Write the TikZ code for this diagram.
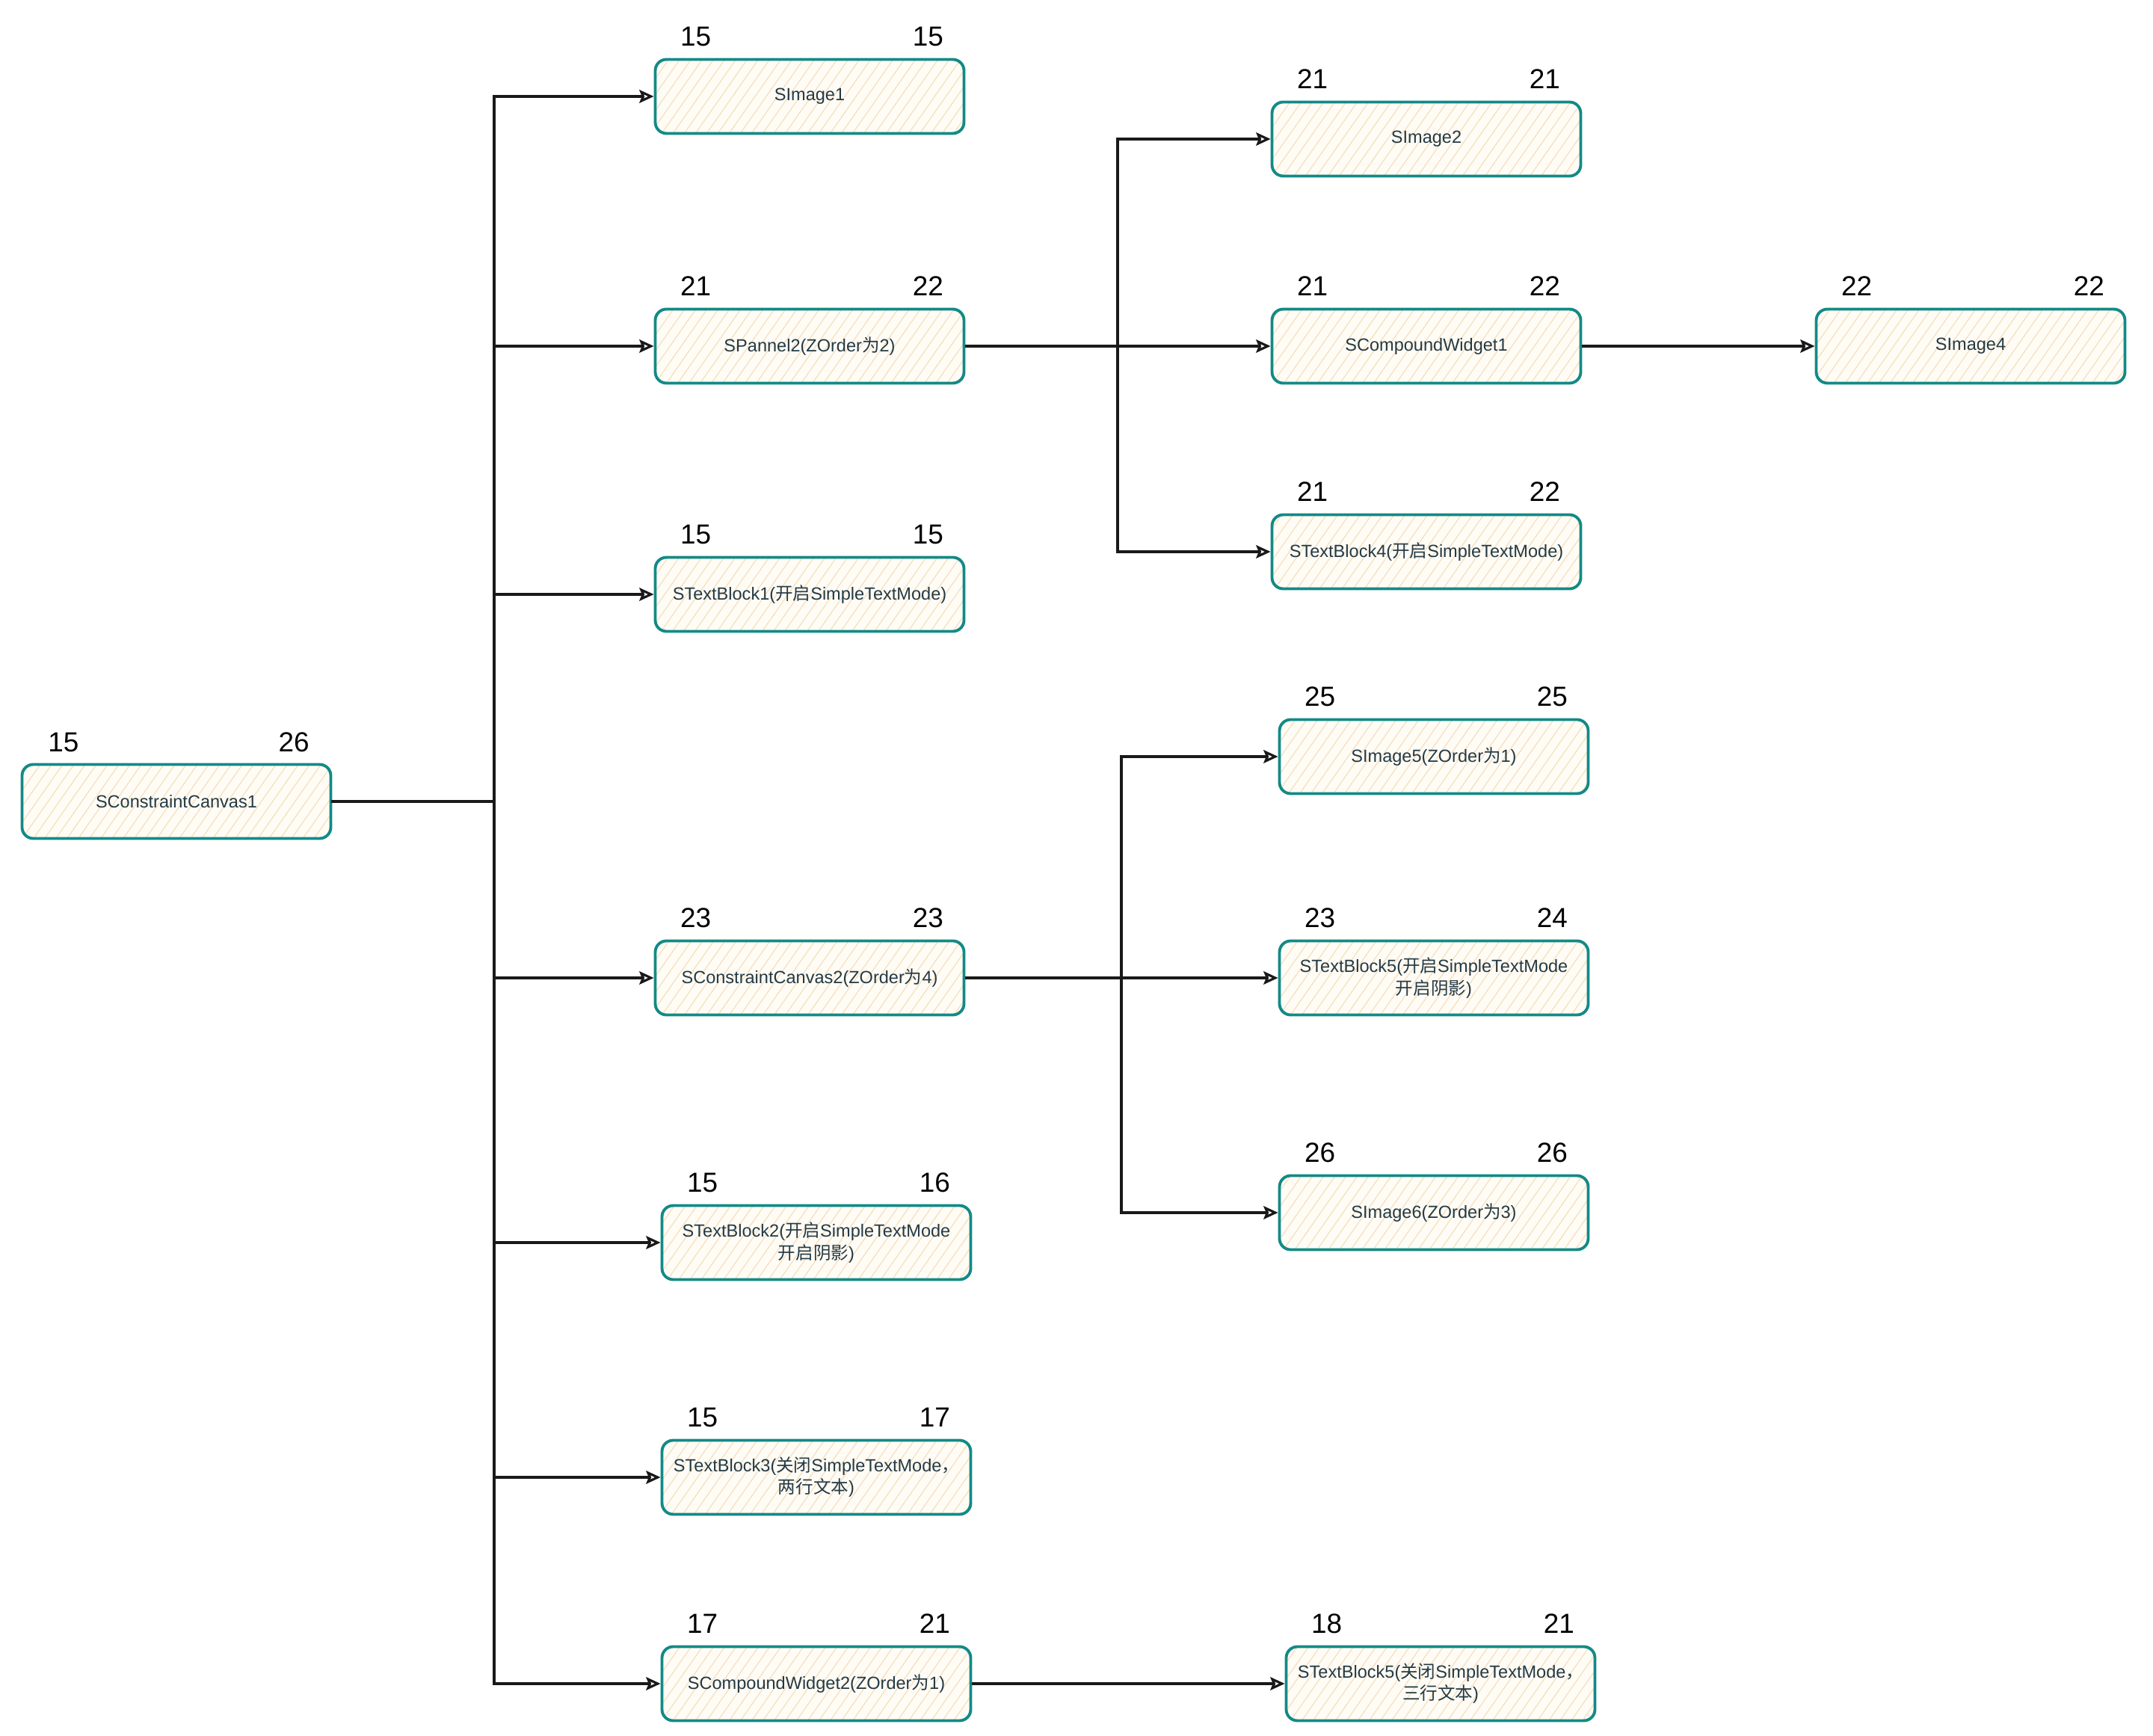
\documentclass[tikz,border=0pt]{standalone}
\usepackage{fontspec}
\setmainfont{Liberation Sans}
\newfontfamily\cjk{Noto Sans CJK SC}
\usepackage{tikz}
\usetikzlibrary{arrows.meta,positioning,patterns.meta}

\definecolor{edge}{HTML}{138A86}
\definecolor{hatch}{HTML}{F6DFBE}
\definecolor{paper}{HTML}{FFFCF6}
\definecolor{ink}{HTML}{243A44}

\begin{document}
\begin{tikzpicture}[>={Stealth[open,length=5.5pt,width=5pt,inset=1pt]},
  widget/.style={draw=edge, line width=1.1pt, rounded corners=0.15cm,
    preaction={fill=paper},
    pattern={Lines[angle=55,distance=3.5pt,line width=0.35pt]}, pattern color=hatch,
    minimum width=4.13cm, minimum height=0.99cm, inner sep=0pt,
    align=center, text=ink, font=\fontsize{6.7}{8.3}\selectfont},
  num/.style={font=\fontsize{10.5}{12}\selectfont, text=black},
  link/.style={->, line width=0.9pt, black!90}]
  \useasboundingbox (0,0) rectangle (28.8,-23.22);

  % Root
  \node[widget] (root) at (2.36,-10.72) {SConstraintCanvas1};

  % First level
  \node[widget] (img1) at (10.83,-1.29) {SImage1};
  \node[widget] (pan2) at (10.83,-4.63) {SPannel2(ZOrder{\cjk 为}2)};
  \node[widget] (tb1) at (10.83,-7.95) {STextBlock1({\cjk 开启}SimpleTextMode)};
  \node[widget] (cc2) at (10.83,-13.08) {SConstraintCanvas2(ZOrder{\cjk 为}4)};
  \node[widget] (tb2) at (10.92,-16.62) {STextBlock2({\cjk 开启}SimpleTextMode\\{\cjk 开启阴影})};
  \node[widget] (tb3) at (10.92,-19.76) {STextBlock3({\cjk 关闭}SimpleTextMode{\cjk ，}\\{\cjk 两行文本})};
  \node[widget] (cw2) at (10.92,-22.52) {SCompoundWidget2(ZOrder{\cjk 为}1)};

  % Second level
  \node[widget] (img2) at (19.08,-1.86) {SImage2};
  \node[widget] (cw1) at (19.08,-4.63) {SCompoundWidget1};
  \node[widget] (tb4) at (19.08,-7.38) {STextBlock4({\cjk 开启}SimpleTextMode)};
  \node[widget] (img5) at (19.18,-10.12) {SImage5(ZOrder{\cjk 为}1)};
  \node[widget] (tb5) at (19.18,-13.08) {STextBlock5({\cjk 开启}SimpleTextMode\\{\cjk 开启阴影})};
  \node[widget] (img6) at (19.18,-16.22) {SImage6(ZOrder{\cjk 为}3)};
  \node[widget] (tb5b) at (19.27,-22.52) {STextBlock5({\cjk 关闭}SimpleTextMode{\cjk ，}\\{\cjk 三行文本})};

  % Third level
  \node[widget] (img4) at (26.36,-4.63) {SImage4};

  % Numbers above the corners
  \foreach \n/\l/\r in {root/15/26, img1/15/15, pan2/21/22, tb1/15/15, cc2/23/23,
      tb2/15/16, tb3/15/17, cw2/17/21, img2/21/21, cw1/21/22, tb4/21/22,
      img5/25/25, tb5/23/24, img6/26/26, tb5b/18/21, img4/22/22}{
    \node[num] (\n-l) at ([shift={(0.56,0.29)}]\n.north west) {\l};
    \node[num] (\n-r) at ([shift={(-0.5,0.29)}]\n.north east) {\r};
  }

  % Elbow trunks
  \coordinate (trunkA) at (6.61,0);
  \coordinate (trunkB) at (14.95,0);
  \coordinate (trunkC) at (15.0,0);

  % Connectors
  \foreach \c in {img1,pan2,tb1,cc2,tb2,tb3,cw2}
    \draw[link] (root.east) -- (root.east -| trunkA) |- (\c.west);
  \foreach \c in {img2,cw1,tb4}
    \draw[link] (pan2.east) -- (pan2.east -| trunkB) |- (\c.west);
  \foreach \c in {img5,tb5,img6}
    \draw[link] (cc2.east) -- (cc2.east -| trunkC) |- (\c.west);
  \draw[link] (cw1) -- (img4);
  \draw[link] (cw2) -- (tb5b);
\end{tikzpicture}
\end{document}
